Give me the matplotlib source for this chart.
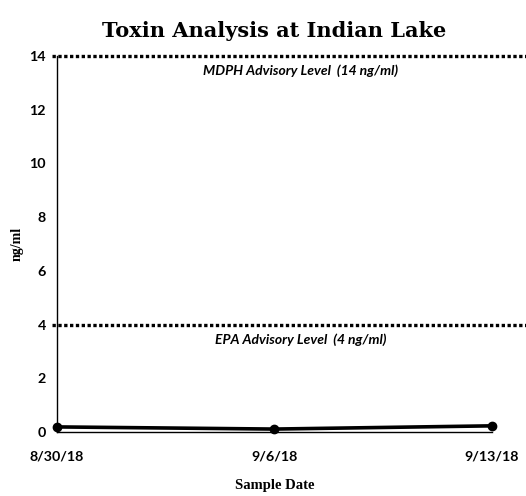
import pandas as pd
import matplotlib
matplotlib.use("Agg")
import matplotlib.pyplot as plt

# sample data
dates = ["2018-08-30", "2018-09-06", "2018-09-13"]
date_labels = ["8/30/18", "9/6/18", "9/13/18"]
toxin = [0.19, 0.11, 0.23]

limits = [14, 4]
limit_labels = ["MDPH Advisory Level  (14 ng/ml)", "EPA Advisory Level  (4 ng/ml)"]
yticks = [0, 2, 4, 6, 8, 10, 12, 14]

x = pd.to_datetime(dates)

fig = plt.figure(figsize=(5.26, 4.96), dpi=100)
ax = fig.add_axes([0.108, 0.129, 0.827, 0.758])

ax.plot(x, toxin, color="black", linewidth=2.6, marker="o", markersize=6,
        clip_on=False, zorder=3)

# advisory levels, dotted lines running past the plot edge
for lvl, lab in zip(limits, limit_labels):
    ax.axhline(lvl, xmin=-0.01, xmax=1.1, color="black", linewidth=2.4,
               linestyle=(0, (1, 0.75)), dash_capstyle="butt", clip_on=False)
    ax.text(0.56, lvl - 0.55, lab, transform=ax.get_yaxis_transform(),
            ha="center", va="center", fontsize=10, fontweight="bold",
            fontstyle="italic", family="Lato")

ax.set_xlim(x[0], x[-1])
ax.set_ylim(0, 14)
ax.set_xticks(x)
ax.set_xticklabels(date_labels)
ax.set_yticks(yticks)

for lab in ax.get_xticklabels() + ax.get_yticklabels():
    lab.set_fontfamily("Lato")
    lab.set_fontweight("bold")
    lab.set_fontsize(10.3)

ax.tick_params(axis="x", length=0, pad=13)
ax.tick_params(axis="y", length=0, pad=8)

ax.spines["top"].set_visible(False)
ax.spines["right"].set_visible(False)
for s in ["left", "bottom"]:
    ax.spines[s].set_linewidth(1.0)

ax.set_title("Toxin Analysis at Indian Lake", fontsize=15, fontweight="bold",
             family="DejaVu Serif", pad=14)
ax.set_xlabel("Sample Date", fontsize=10.5, fontweight="bold",
              family="Liberation Serif", labelpad=12)
ax.set_ylabel("ng/ml", fontsize=10, fontweight="bold",
              family="Liberation Serif", labelpad=4)

fig.savefig("out.png", dpi=100)
